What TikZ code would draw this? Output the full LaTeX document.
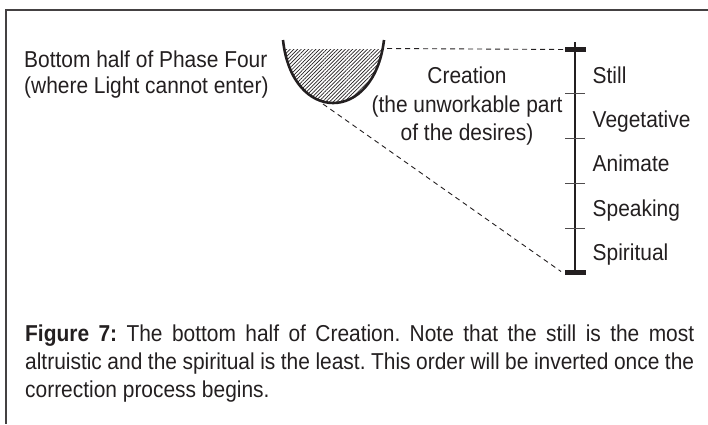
\documentclass[tikz,border=0pt]{standalone}
\usepackage{fontspec}
\setmainfont{Liberation Sans}[FakeStretch=0.91]
\usetikzlibrary{patterns.meta}
\definecolor{ink}{HTML}{231F20}
\frenchspacing
\begin{document}
\begin{tikzpicture}[x=1pt,y=-1pt,
  txt/.style={inner sep=0pt, text=ink, font=\fontsize{23}{26}\selectfont},
  lbl/.style={txt, anchor=base west},
  dashline/.style={draw=ink, line width=0.9pt, dash pattern=on 5pt off 4pt},
  bar/.style={draw=ink, line width=5pt},
  tick/.style={draw=ink!80, line width=0.9pt}]
\useasboundingbox (0,0) rectangle (708,424);
% frame
\draw[line width=1.4pt, ink!85] (708,10) -- (6,10) -- (6,424);
% bowl
\begin{scope}
  \clip (0,49) rectangle (708,200);
  \fill[pattern={Lines[angle=45,distance=2.6pt,line width=0.7pt]}, pattern color=ink]
    (283,40) .. controls (292,124) and (374,124) .. (384,40) -- cycle;
\end{scope}
\draw[draw=ink, line width=2.6pt] (283,40) .. controls (292,124) and (374,124) .. (384,40);
\coordinate (bowlR) at (387,48.5);
\coordinate (bowlB) at (323,104);
% scale
\coordinate (barT) at (565,49.5);
\coordinate (barB) at (561,271.5);
\draw[draw=ink, line width=1.3pt] (575,42) -- (575,272);
\draw[bar] (565,49.5) -- (586,49.5);
\draw[bar] (565,272) -- (586,272);
\foreach \y in {93.5,138,183,228} \draw[tick] (565,\y) -- (585,\y);
% dashed connectors
\draw[dashline] (bowlR) -- (barT);
\draw[dashline] (bowlB) -- (barB);
% labels
\node[lbl] (still) at (592.5,83.3) {Still};
\node[lbl] (veg) at (592.5,127.6) {Vegetative};
\node[lbl] (anim) at (592.5,171.9) {Animate};
\node[lbl] (speak) at (592.5,216.2) {Speaking};
\node[lbl] (spir) at (592.5,260.5) {Spiritual};
\node[lbl, align=left] (left) at (24,93.3) {Bottom half of Phase Four\\(where Light cannot enter)};
\node[txt, anchor=base, align=center, font=\fontsize{23}{28.7}\selectfont] (creation) at (467,140.7) {Creation\\(the unworkable part\\of the desires)};
\node[txt, anchor=base west, text width=669pt, align=justify, font=\fontsize{23}{28}\selectfont] (caption) at (25,341.7)
  {\textbf{Figure 7:} The bottom half of Creation. Note that the still is the most\linebreak altruistic and the spiritual is the least. This order will be inverted once the\linebreak correction process begins.};
\end{tikzpicture}
\end{document}
